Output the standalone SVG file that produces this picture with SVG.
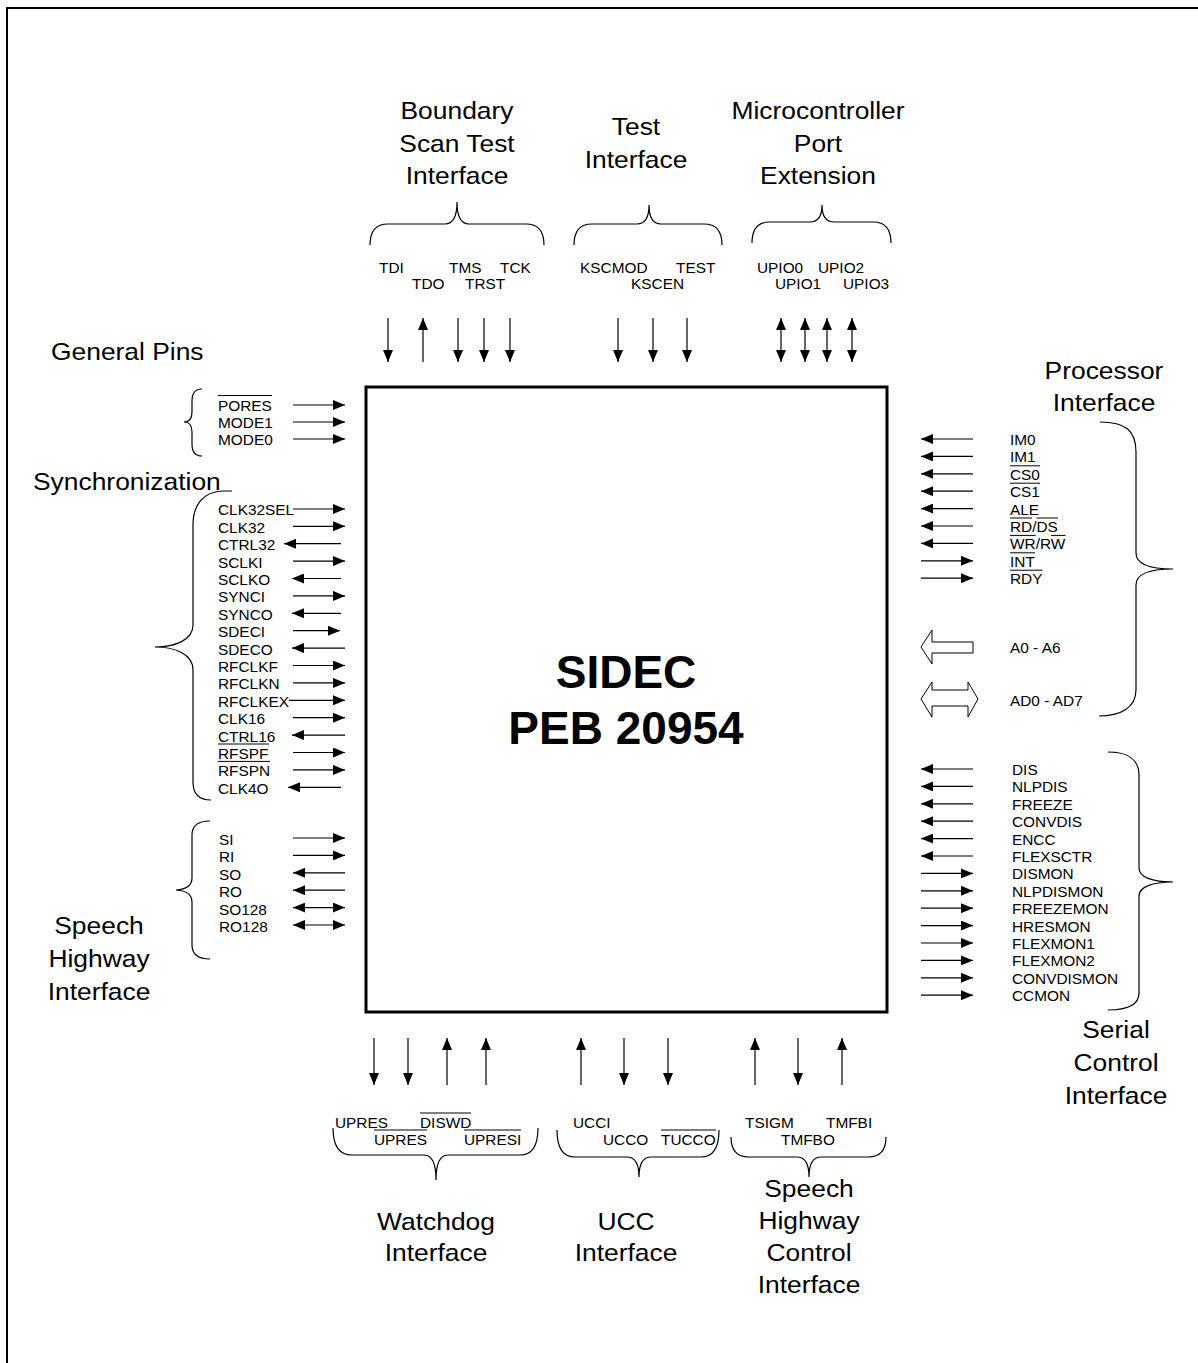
<svg xmlns="http://www.w3.org/2000/svg" width="1198" height="1363" viewBox="0 0 1198 1363">
<style>
text{font-family:"Liberation Sans",Arial,sans-serif;fill:#000}
.l{font-size:14px}
.t{font-size:24px;text-anchor:middle}
.ts{font-size:24px}
.big{font-size:46px;font-weight:bold;text-anchor:middle}
.br{fill:none;stroke:#000;stroke-width:1.2}
.ov{stroke:#000;stroke-width:1}
.a{stroke:#000;stroke-width:1.2;fill:none;marker-end:url(#ah)}
.d{stroke:#000;stroke-width:1.2;fill:none;marker-end:url(#ah);marker-start:url(#ah)}
.blk{fill:#fff;stroke:#000;stroke-width:1}
</style>
<defs>
<marker id="ah" markerUnits="userSpaceOnUse" markerWidth="12" markerHeight="10" refX="12" refY="5" orient="auto-start-reverse"><path d="M0,0 L12,5 L0,10 Z" fill="#000"/></marker>
</defs>
<rect width="1198" height="1363" fill="#fff"/>
<path d="M7,1363 L7,8 L1198,8" fill="none" stroke="#000" stroke-width="2"/>

<g id="chip">
<rect x="366" y="387" width="521" height="625" fill="none" stroke="#000" stroke-width="3"/>
<text class="big" x="626" y="688">SIDEC</text>
<text class="big" x="626" y="744">PEB 20954</text>
</g>

<g id="boundary-scan">
<text class="t" transform="matrix(1.1 0 0 1 457 119)">Boundary</text>
<text class="t" transform="matrix(1.1 0 0 1 457 152)">Scan Test</text>
<text class="t" transform="matrix(1.1 0 0 1 457 184)">Interface</text>
<path class="br" d="M370,245 Q370,224 388,224 L445,224 Q457,224 457,202 Q457,224 469,224 L526,224 Q544,224 544,245"/>
<text class="l" transform="matrix(1.1 0 0 1 379 273)">TDI</text>
<text class="l" transform="matrix(1.1 0 0 1 412 289)">TDO</text>
<text class="l" transform="matrix(1.1 0 0 1 449 273)">TMS</text>
<text class="l" transform="matrix(1.1 0 0 1 465 289)">TRST</text>
<text class="l" transform="matrix(1.1 0 0 1 500 273)">TCK</text>
</g>

<g id="test-interface">
<text class="t" transform="matrix(1.1 0 0 1 636 135)">Test</text>
<text class="t" transform="matrix(1.1 0 0 1 636 168)">Interface</text>
<path class="br" d="M574,245 Q574,224 592,224 L637,224 Q649,224 649,205 Q649,224 661,224 L704,224 Q722,224 722,245"/>
<text class="l" transform="matrix(1.1 0 0 1 580 273)">KSCMOD</text>
<text class="l" transform="matrix(1.1 0 0 1 631 289)">KSCEN</text>
<text class="l" transform="matrix(1.1 0 0 1 676 273)">TEST</text>
</g>

<g id="microcontroller-port">
<text class="t" transform="matrix(1.1 0 0 1 818 119)">Microcontroller</text>
<text class="t" transform="matrix(1.1 0 0 1 818 152)">Port</text>
<text class="t" transform="matrix(1.1 0 0 1 818 184)">Extension</text>
<path class="br" d="M752,243 Q752,222 770,222 L810,222 Q822,222 822,205 Q822,222 834,222 L873,222 Q891,222 891,243"/>
<text class="l" transform="matrix(1.1 0 0 1 757 273)">UPIO0</text>
<text class="l" transform="matrix(1.1 0 0 1 775 289)">UPIO1</text>
<text class="l" transform="matrix(1.1 0 0 1 818 273)">UPIO2</text>
<text class="l" transform="matrix(1.1 0 0 1 843 289)">UPIO3</text>
</g>

<g id="general-pins">
<text class="ts" transform="matrix(1.1 0 0 1 51 360)">General Pins</text>
<path class="br" d="M202,389 Q192,389 192,401 L192,412 Q192,422 184,422 Q192,422 192,432 L192,444 Q192,456 202,456"/>
<text class="l" transform="matrix(1.1 0 0 1 218 410.5)">PORES</text>
<line class="ov" x1="218" y1="395.5" x2="272" y2="395.5"/>
<text class="l" transform="matrix(1.1 0 0 1 218 427.5)">MODE1</text>
<text class="l" transform="matrix(1.1 0 0 1 218 444.5)">MODE0</text>
</g>

<g id="synchronization">
<text class="ts" transform="matrix(1.1 0 0 1 33 490)">Synchronization</text>
<path class="br" d="M232,491 L222,491 C203,492 193,505 193,525 L193,625 C193,640 175,647 155,647 C175,647 193,654 193,670 L193,782 Q193,800 211,800"/>
<text class="l" transform="matrix(1.1 0 0 1 218 515.4)">CLK32SEL</text>
<text class="l" transform="matrix(1.1 0 0 1 218 532.8)">CLK32</text>
<text class="l" transform="matrix(1.1 0 0 1 218 550.2)">CTRL32</text>
<text class="l" transform="matrix(1.1 0 0 1 218 567.6)">SCLKI</text>
<text class="l" transform="matrix(1.1 0 0 1 218 585)">SCLKO</text>
<text class="l" transform="matrix(1.1 0 0 1 218 602.4)">SYNCI</text>
<text class="l" transform="matrix(1.1 0 0 1 218 619.8)">SYNCO</text>
<text class="l" transform="matrix(1.1 0 0 1 218 637.2)">SDECI</text>
<text class="l" transform="matrix(1.1 0 0 1 218 654.6)">SDECO</text>
<text class="l" transform="matrix(1.1 0 0 1 218 672)">RFCLKF</text>
<text class="l" transform="matrix(1.1 0 0 1 218 689.4)">RFCLKN</text>
<text class="l" transform="matrix(1.1 0 0 1 218 706.8)">RFCLKEX</text>
<text class="l" transform="matrix(1.1 0 0 1 218 724.2)">CLK16</text>
<text class="l" transform="matrix(1.1 0 0 1 218 741.6)">CTRL16</text>
<text class="l" transform="matrix(1.1 0 0 1 218 759)">RFSPF</text>
<line class="ov" x1="218" y1="744" x2="269" y2="744"/>
<text class="l" transform="matrix(1.1 0 0 1 218 776.4)">RFSPN</text>
<line class="ov" x1="218" y1="761.4" x2="270" y2="761.4"/>
<text class="l" transform="matrix(1.1 0 0 1 218 793.8)">CLK4O</text>
</g>

<g id="speech-highway">
<text class="t" transform="matrix(1.1 0 0 1 99 934)">Speech</text>
<text class="t" transform="matrix(1.1 0 0 1 99 967)">Highway</text>
<text class="t" transform="matrix(1.1 0 0 1 99 1000)">Interface</text>
<path class="br" d="M210,821 Q192,821 192,835 L192,878 Q192,889 176,890 Q192,891 192,902 L192,945 Q192,959 210,959"/>
<text class="l" transform="matrix(1.1 0 0 1 219 845)">SI</text>
<text class="l" transform="matrix(1.1 0 0 1 219 862.4)">RI</text>
<text class="l" transform="matrix(1.1 0 0 1 219 879.8)">SO</text>
<text class="l" transform="matrix(1.1 0 0 1 219 897.2)">RO</text>
<text class="l" transform="matrix(1.1 0 0 1 219 914.6)">SO128</text>
<text class="l" transform="matrix(1.1 0 0 1 219 932)">RO128</text>
</g>

<g id="processor-interface">
<text class="t" transform="matrix(1.1 0 0 1 1104 379)">Processor</text>
<text class="t" transform="matrix(1.1 0 0 1 1104 411)">Interface</text>
<path class="br" d="M1100,422 C1125,422 1136,430 1136,452 L1136,553 C1136,565 1150,569 1173,569 C1150,569 1136,573 1136,585 L1136,690 C1136,708 1120,716 1099,716"/>
<text class="l" transform="matrix(1.1 0 0 1 1010 445)">IM0</text>
<text class="l" transform="matrix(1.1 0 0 1 1010 462.4)">IM1</text>
<text class="l" transform="matrix(1.1 0 0 1 1010 479.8)">CS0</text>
<line class="ov" x1="1010" y1="465.8" x2="1040" y2="465.8"/>
<text class="l" transform="matrix(1.1 0 0 1 1010 497.2)">CS1</text>
<line class="ov" x1="1010" y1="483.2" x2="1040" y2="483.2"/>
<text class="l" transform="matrix(1.1 0 0 1 1010 514.6)">ALE</text>
<text class="l" transform="matrix(1.1 0 0 1 1010 532)">RD/DS</text>
<line class="ov" x1="1010" y1="518" x2="1032" y2="518"/>
<line class="ov" x1="1036.5" y1="518" x2="1058" y2="518"/>
<text class="l" transform="matrix(1.1 0 0 1 1010 549.4)">WR/RW</text>
<line class="ov" x1="1010" y1="535.4" x2="1035.7" y2="535.4"/>
<line class="ov" x1="1051" y1="535.4" x2="1065.6" y2="535.4"/>
<text class="l" transform="matrix(1.1 0 0 1 1010 566.8)">INT</text>
<line class="ov" x1="1010" y1="552.8" x2="1035" y2="552.8"/>
<text class="l" transform="matrix(1.1 0 0 1 1010 584.2)">RDY</text>
<line class="ov" x1="1010" y1="570.2" x2="1042.5" y2="570.2"/>
<polygon class="blk" points="921,647 932,630 932,642 973,642 973,653 932,653 932,664"/>
<text class="l" transform="matrix(1.1 0 0 1 1010 653)">A0 - A6</text>
<polygon class="blk" points="921,699 932,682 932,690 968,690 968,682 978,699 968,717 968,706 932,706 932,717"/>
<text class="l" transform="matrix(1.1 0 0 1 1010 706)">AD0 - AD7</text>
</g>

<g id="serial-control">
<text class="t" transform="matrix(1.1 0 0 1 1116 1038)">Serial</text>
<text class="t" transform="matrix(1.1 0 0 1 1116 1071)">Control</text>
<text class="t" transform="matrix(1.1 0 0 1 1116 1104)">Interface</text>
<path class="br" d="M1108,752 C1128,752 1139,760 1139,775 L1139,868 C1139,877 1152,882 1173,882 C1152,882 1139,887 1139,896 L1139,993 C1139,1004 1128,1010 1108,1010"/>
<text class="l" transform="matrix(1.1 0 0 1 1012 775)">DIS</text>
<text class="l" transform="matrix(1.1 0 0 1 1012 792.4)">NLPDIS</text>
<text class="l" transform="matrix(1.1 0 0 1 1012 809.8)">FREEZE</text>
<text class="l" transform="matrix(1.1 0 0 1 1012 827.2)">CONVDIS</text>
<text class="l" transform="matrix(1.1 0 0 1 1012 844.6)">ENCC</text>
<text class="l" transform="matrix(1.1 0 0 1 1012 862)">FLEXSCTR</text>
<text class="l" transform="matrix(1.1 0 0 1 1012 879.4)">DISMON</text>
<text class="l" transform="matrix(1.1 0 0 1 1012 896.8)">NLPDISMON</text>
<text class="l" transform="matrix(1.1 0 0 1 1012 914.2)">FREEZEMON</text>
<text class="l" transform="matrix(1.1 0 0 1 1012 931.6)">HRESMON</text>
<text class="l" transform="matrix(1.1 0 0 1 1012 949)">FLEXMON1</text>
<text class="l" transform="matrix(1.1 0 0 1 1012 966.4)">FLEXMON2</text>
<text class="l" transform="matrix(1.1 0 0 1 1012 983.8)">CONVDISMON</text>
<text class="l" transform="matrix(1.1 0 0 1 1012 1001.2)">CCMON</text>
</g>

<g id="watchdog-interface">
<text class="l" transform="matrix(1.1 0 0 1 335 1128)">UPRES</text>
<text class="l" transform="matrix(1.1 0 0 1 420 1128)">DISWD</text>
<line class="ov" x1="420" y1="1113" x2="471" y2="1113"/>
<text class="l" transform="matrix(1.1 0 0 1 374 1145)">UPRES</text>
<line class="ov" x1="374" y1="1130" x2="427" y2="1130"/>
<text class="l" transform="matrix(1.1 0 0 1 464 1145)">UPRESI</text>
<line class="ov" x1="464" y1="1130" x2="521" y2="1130"/>
<path class="br" d="M333,1128 Q333,1155 352,1155 L424,1155 Q436,1155 436,1180 Q436,1155 448,1155 L520,1155 Q538,1155 538,1128"/>
<text class="t" transform="matrix(1.1 0 0 1 436 1230)">Watchdog</text>
<text class="t" transform="matrix(1.1 0 0 1 436 1261)">Interface</text>
</g>

<g id="ucc-interface">
<text class="l" transform="matrix(1.1 0 0 1 573 1128)">UCCI</text>
<text class="l" transform="matrix(1.1 0 0 1 603 1145)">UCCO</text>
<text class="l" transform="matrix(1.1 0 0 1 661 1145)">TUCCO</text>
<line class="ov" x1="661" y1="1130" x2="716" y2="1130"/>
<path class="br" d="M557,1130 Q557,1157 575,1157 L627,1157 Q639,1157 639,1177 Q639,1157 651,1157 L701,1157 Q719,1157 719,1130"/>
<text class="t" transform="matrix(1.1 0 0 1 626 1230)">UCC</text>
<text class="t" transform="matrix(1.1 0 0 1 626 1261)">Interface</text>
</g>

<g id="speech-highway-control">
<text class="l" transform="matrix(1.1 0 0 1 745 1128)">TSIGM</text>
<text class="l" transform="matrix(1.1 0 0 1 826 1128)">TMFBI</text>
<text class="l" transform="matrix(1.1 0 0 1 781 1145)">TMFBO</text>
<path class="br" d="M731,1137 Q731,1157 749,1157 L797,1157 Q809,1157 809,1177 Q809,1157 821,1157 L868,1157 Q886,1157 886,1137"/>
<text class="t" transform="matrix(1.1 0 0 1 809 1197)">Speech</text>
<text class="t" transform="matrix(1.1 0 0 1 809 1229)">Highway</text>
<text class="t" transform="matrix(1.1 0 0 1 809 1261)">Control</text>
<text class="t" transform="matrix(1.1 0 0 1 809 1293)">Interface</text>
</g>

<g id="connectors">
<line class="a" x1="388" y1="318" x2="388" y2="362"/>
<line class="a" x1="423" y1="362" x2="423" y2="318"/>
<line class="a" x1="458" y1="318" x2="458" y2="362"/>
<line class="a" x1="484" y1="318" x2="484" y2="362"/>
<line class="a" x1="510" y1="318" x2="510" y2="362"/>
<line class="a" x1="618" y1="318" x2="618" y2="362"/>
<line class="a" x1="653" y1="318" x2="653" y2="362"/>
<line class="a" x1="687" y1="318" x2="687" y2="362"/>
<line class="d" x1="781" y1="318" x2="781" y2="362"/>
<line class="d" x1="805" y1="318" x2="805" y2="362"/>
<line class="d" x1="827" y1="318" x2="827" y2="362"/>
<line class="d" x1="852" y1="318" x2="852" y2="362"/>
<line class="a" x1="293" y1="405" x2="345" y2="405"/>
<line class="a" x1="293" y1="422" x2="345" y2="422"/>
<line class="a" x1="293" y1="439" x2="345" y2="439"/>
<line class="a" x1="293" y1="509" x2="345" y2="509"/>
<line class="a" x1="293" y1="526.3" x2="345" y2="526.3"/>
<line class="a" x1="341" y1="543.7" x2="284" y2="543.7"/>
<line class="a" x1="293" y1="561.1" x2="345" y2="561.1"/>
<line class="a" x1="341" y1="578.5" x2="292" y2="578.5"/>
<line class="a" x1="293" y1="595.9" x2="345" y2="595.9"/>
<line class="a" x1="341" y1="613.3" x2="292" y2="613.3"/>
<line class="a" x1="293" y1="630.7" x2="340" y2="630.7"/>
<line class="a" x1="345" y1="648.1" x2="292" y2="648.1"/>
<line class="a" x1="293" y1="665.5" x2="345" y2="665.5"/>
<line class="a" x1="293" y1="682.9" x2="345" y2="682.9"/>
<line class="a" x1="289" y1="700.3" x2="345" y2="700.3"/>
<line class="a" x1="293" y1="717.7" x2="345" y2="717.7"/>
<line class="a" x1="345" y1="735.1" x2="292" y2="735.1"/>
<line class="a" x1="293" y1="752.5" x2="345" y2="752.5"/>
<line class="a" x1="293" y1="769.9" x2="345" y2="769.9"/>
<line class="a" x1="341" y1="787.3" x2="288" y2="787.3"/>
<line class="a" x1="293" y1="838" x2="345" y2="838"/>
<line class="a" x1="293" y1="855.4" x2="345" y2="855.4"/>
<line class="a" x1="345" y1="872.8" x2="293" y2="872.8"/>
<line class="a" x1="345" y1="890.2" x2="293" y2="890.2"/>
<line class="d" x1="293" y1="907.6" x2="345" y2="907.6"/>
<line class="d" x1="293" y1="925" x2="345" y2="925"/>
<line class="a" x1="973" y1="439" x2="921" y2="439"/>
<line class="a" x1="973" y1="456.4" x2="921" y2="456.4"/>
<line class="a" x1="973" y1="473.8" x2="921" y2="473.8"/>
<line class="a" x1="973" y1="491.2" x2="921" y2="491.2"/>
<line class="a" x1="973" y1="508.6" x2="921" y2="508.6"/>
<line class="a" x1="973" y1="526" x2="921" y2="526"/>
<line class="a" x1="973" y1="543.4" x2="921" y2="543.4"/>
<line class="a" x1="921" y1="560.8" x2="973" y2="560.8"/>
<line class="a" x1="921" y1="578.2" x2="973" y2="578.2"/>
<line class="a" x1="973" y1="769" x2="921" y2="769"/>
<line class="a" x1="973" y1="786.4" x2="921" y2="786.4"/>
<line class="a" x1="973" y1="803.8" x2="921" y2="803.8"/>
<line class="a" x1="973" y1="821.2" x2="921" y2="821.2"/>
<line class="a" x1="973" y1="838.6" x2="921" y2="838.6"/>
<line class="a" x1="973" y1="856" x2="921" y2="856"/>
<line class="a" x1="921" y1="873.4" x2="973" y2="873.4"/>
<line class="a" x1="921" y1="890.8" x2="973" y2="890.8"/>
<line class="a" x1="921" y1="908.2" x2="973" y2="908.2"/>
<line class="a" x1="921" y1="925.6" x2="973" y2="925.6"/>
<line class="a" x1="921" y1="943" x2="973" y2="943"/>
<line class="a" x1="921" y1="960.4" x2="973" y2="960.4"/>
<line class="a" x1="921" y1="977.8" x2="973" y2="977.8"/>
<line class="a" x1="921" y1="995.2" x2="973" y2="995.2"/>
<line class="a" x1="374" y1="1038" x2="374" y2="1085"/>
<line class="a" x1="408" y1="1038" x2="408" y2="1085"/>
<line class="a" x1="447" y1="1085" x2="447" y2="1038"/>
<line class="a" x1="486" y1="1085" x2="486" y2="1038"/>
<line class="a" x1="581" y1="1085" x2="581" y2="1038"/>
<line class="a" x1="624" y1="1038" x2="624" y2="1085"/>
<line class="a" x1="668" y1="1038" x2="668" y2="1085"/>
<line class="a" x1="755" y1="1085" x2="755" y2="1038"/>
<line class="a" x1="798" y1="1038" x2="798" y2="1085"/>
<line class="a" x1="842" y1="1085" x2="842" y2="1038"/>
</g>
</svg>
